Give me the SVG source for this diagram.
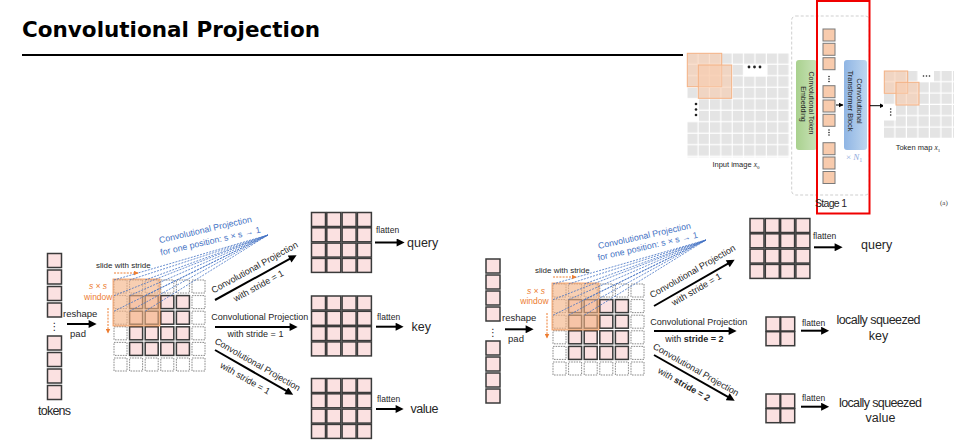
<svg xmlns="http://www.w3.org/2000/svg" width="961" height="448" viewBox="0 0 961 448">
<defs>
<style>
.t{font-family:"Liberation Sans",Arial,sans-serif;fill:#262626}
.pk{fill:#fbe1e1;stroke:#3a3a3a;stroke-width:1.5}
.pd{fill:#fff;stroke:#8a8a8a;stroke-width:1;stroke-dasharray:1.6 1}
.win{fill:#f4b183;fill-opacity:.62;stroke:#ed7d31;stroke-width:.8;stroke-opacity:.8}
.blue{fill:#4472c4}
.or{fill:#ed7d31}
.bd{stroke:#4472c4;stroke-width:.8;stroke-dasharray:2 1.2;fill:none}
.ar{stroke:#000;stroke-width:2;fill:none;marker-end:url(#ah)}
.ard{stroke:#ed7d31;stroke-width:1;stroke-dasharray:2 1.2;fill:none;marker-end:url(#oh)}
.sa{stroke:#000;stroke-width:1;fill:none;marker-end:url(#sh)}
.tk{fill:#f8cbad;stroke:#7a7a7a;stroke-width:1}
.ov{fill:#f8cbad;fill-opacity:.6;stroke:#f4b183;stroke-width:1}
.dot{fill:#222}
</style>
<marker id="ah" viewBox="0 0 10 10" refX="6" refY="5" markerWidth="9" markerHeight="8" markerUnits="userSpaceOnUse" orient="auto"><path d="M0,0 L10,5 L0,10 z" fill="#000"/></marker>
<marker id="oh" viewBox="0 0 10 10" refX="9" refY="5" markerWidth="5" markerHeight="5" markerUnits="userSpaceOnUse" orient="auto"><path d="M0,0 L10,5 L0,10 z" fill="#ed7d31"/></marker>
<marker id="sh" viewBox="0 0 10 10" refX="9" refY="5" markerWidth="5" markerHeight="5" markerUnits="userSpaceOnUse" orient="auto"><path d="M0,0 L10,5 L0,10 z" fill="#000"/></marker>
<rect id="c13" width="13" height="13" class="pk"/>
<rect id="d13" width="13" height="13" class="pd"/>
<rect id="c14" width="14" height="14" class="pk"/>
<rect id="t12" width="12" height="12" class="tk"/>
<pattern id="gimg" patternUnits="userSpaceOnUse" x="687.3" y="53.3" width="11.37" height="11.5"><rect width="10.2" height="10.3" fill="#e4e4e4"/></pattern>
<pattern id="gmap" patternUnits="userSpaceOnUse" x="884" y="71" width="11.5" height="11.33"><rect width="10.3" height="10.1" fill="#e4e4e4"/></pattern>
<linearGradient id="gg" x1="0" x2="1"><stop offset="0" stop-color="#a9d18e"/><stop offset="1" stop-color="#c9e2b8"/></linearGradient>
<linearGradient id="bg" x1="0" x2="1"><stop offset="0" stop-color="#8fb5e4"/><stop offset="1" stop-color="#bed6ef"/></linearGradient>
</defs>
<rect width="961" height="448" fill="#fff"/>

<g id="title">
<text x="22" y="37" font-family="'DejaVu Sans',sans-serif" font-weight="bold" font-size="21.5" textLength="298" fill="#000">Convolutional Projection</text>
<line x1="22" y1="55" x2="683" y2="55" stroke="#000" stroke-width="2"/>
</g>

<g id="stage-figure">
<rect x="687.3" y="53.3" width="102" height="104" fill="url(#gimg)"/>
<rect x="743.5" y="64" width="24" height="12.5" fill="#fff"/>
<rect x="686" y="98.5" width="13" height="23" fill="#fff"/>
<rect x="687.3" y="53.3" width="34.4" height="33.4" class="ov"/>
<rect x="698.3" y="65" width="33.4" height="33.3" class="ov"/>
<circle cx="749" cy="67" r="1.4" class="dot"/><circle cx="754.5" cy="67" r="1.4" class="dot"/><circle cx="760" cy="67" r="1.4" class="dot"/>
<circle cx="696" cy="104" r="1.3" class="dot"/><circle cx="696" cy="109.5" r="1.3" class="dot"/><circle cx="696" cy="115" r="1.3" class="dot"/>
<text x="736" y="167" class="t" font-size="7.5" text-anchor="middle" fill="#404040">Input image <tspan font-family="'Liberation Serif',serif" font-style="italic">x</tspan><tspan font-family="'Liberation Serif',serif" font-size="5" dy="1.5">0</tspan></text>
<rect x="791.7" y="16" width="77.6" height="179" rx="4" fill="none" stroke="#cfcfcf" stroke-dasharray="3 2"/>
<rect x="796" y="60" width="21" height="90" rx="3" fill="url(#gg)"/>
<text transform="translate(808.5,103) rotate(90)" class="t" font-size="7" text-anchor="middle" fill="#333">Convolutional Token</text>
<text transform="translate(800.5,104) rotate(90)" class="t" font-size="7" text-anchor="middle" fill="#333">Embedding</text>
<use href="#t12" x="823" y="29"/><use href="#t12" x="823" y="43.3"/><use href="#t12" x="823" y="57.7"/>
<circle cx="829" cy="76.5" r="0.8" class="dot"/><circle cx="829" cy="79" r="0.8" class="dot"/><circle cx="829" cy="81.5" r="0.8" class="dot"/>
<use href="#t12" x="823" y="85.7"/><use href="#t12" x="823" y="100"/><use href="#t12" x="823" y="114.3"/>
<circle cx="829" cy="130" r="0.8" class="dot"/><circle cx="829" cy="132.5" r="0.8" class="dot"/><circle cx="829" cy="135" r="0.8" class="dot"/>
<use href="#t12" x="823" y="142.7"/><use href="#t12" x="823" y="157"/><use href="#t12" x="823" y="171.5"/>
<line x1="836" y1="105" x2="843" y2="105" class="sa"/>
<rect x="844" y="60" width="23" height="90" rx="3" fill="url(#bg)"/>
<text transform="translate(857,101) rotate(90)" class="t" font-size="7.5" text-anchor="middle" fill="#333">Convolutional</text>
<text transform="translate(848,101) rotate(90)" class="t" font-size="7.5" text-anchor="middle" fill="#333">Transformer Block</text>
<text x="846" y="159.5" font-family="'Liberation Serif',serif" font-size="9" fill="#8faadc">× <tspan font-style="italic">N</tspan><tspan font-size="6" dy="2">1</tspan></text>
<rect x="817" y="1" width="52.5" height="212.5" fill="none" stroke="#f00000" stroke-width="2"/>
<line x1="870" y1="105.7" x2="884" y2="105.7" class="sa"/>
<rect x="884" y="71" width="70" height="68" fill="url(#gmap)"/>
<rect x="918" y="70" width="16" height="12" fill="#fff"/>
<rect x="883" y="104.5" width="13" height="16" fill="#fff"/>
<rect x="884.3" y="71" width="23.4" height="22.3" class="ov"/>
<rect x="896" y="82.3" width="23" height="22.7" class="ov"/>
<circle cx="923.5" cy="76" r="0.8" class="dot"/><circle cx="926.5" cy="76" r="0.8" class="dot"/><circle cx="929.5" cy="76" r="0.8" class="dot"/>
<circle cx="890.7" cy="109" r="0.8" class="dot"/><circle cx="890.7" cy="112" r="0.8" class="dot"/><circle cx="890.7" cy="115" r="0.8" class="dot"/>
<text x="918" y="150" class="t" font-size="7.5" text-anchor="middle" fill="#404040">Token map <tspan font-family="'Liberation Serif',serif" font-style="italic">x</tspan><tspan font-family="'Liberation Serif',serif" font-size="5" dy="1.5">1</tspan></text>
<text x="831" y="207" class="t" font-size="10.5" text-anchor="middle" textLength="32" fill="#404040">Stage 1</text>
<text x="940" y="205" font-family="'Liberation Serif',serif" font-size="7" fill="#404040">(a)</text>
</g>

<g id="left-tokens">
<use href="#c14" x="47.5" y="253.5"/><use href="#c14" x="47.5" y="270"/><use href="#c14" x="47.5" y="286.5"/><use href="#c14" x="47.5" y="303"/>
<text x="54.5" y="330" font-family="'DejaVu Sans',sans-serif" font-size="10" text-anchor="middle" fill="#262626">⋮</text>
<use href="#c14" x="47.5" y="336"/><use href="#c14" x="47.5" y="352.5"/><use href="#c14" x="47.5" y="369"/><use href="#c14" x="47.5" y="385.5"/>
<text x="54.5" y="415" class="t" font-size="12.5" text-anchor="middle" textLength="33">tokens</text>
</g>

<g id="left-grid">
<use href="#d13" x="114" y="280"/><use href="#d13" x="129.6" y="280"/><use href="#d13" x="145.2" y="280"/><use href="#d13" x="160.8" y="280"/><use href="#d13" x="176.4" y="280"/><use href="#d13" x="192" y="280"/>
<use href="#d13" x="114" y="295.6"/><use href="#c13" x="129.6" y="295.6"/><use href="#c13" x="145.2" y="295.6"/><use href="#c13" x="160.8" y="295.6"/><use href="#c13" x="176.4" y="295.6"/><use href="#d13" x="192" y="295.6"/>
<use href="#d13" x="114" y="311.2"/><use href="#c13" x="129.6" y="311.2"/><use href="#c13" x="145.2" y="311.2"/><use href="#c13" x="160.8" y="311.2"/><use href="#c13" x="176.4" y="311.2"/><use href="#d13" x="192" y="311.2"/>
<use href="#d13" x="114" y="326.8"/><use href="#c13" x="129.6" y="326.8"/><use href="#c13" x="145.2" y="326.8"/><use href="#c13" x="160.8" y="326.8"/><use href="#c13" x="176.4" y="326.8"/><use href="#d13" x="192" y="326.8"/>
<use href="#d13" x="114" y="342.4"/><use href="#c13" x="129.6" y="342.4"/><use href="#c13" x="145.2" y="342.4"/><use href="#c13" x="160.8" y="342.4"/><use href="#c13" x="176.4" y="342.4"/><use href="#d13" x="192" y="342.4"/>
<use href="#d13" x="114" y="358"/><use href="#d13" x="129.6" y="358"/><use href="#d13" x="145.2" y="358"/><use href="#d13" x="160.8" y="358"/><use href="#d13" x="176.4" y="358"/><use href="#d13" x="192" y="358"/>
<rect x="113" y="279" width="47" height="47" class="win"/>
<path class="bd" d="M114,280L268,235M129.6,280L268,235M145.2,280L268,235M114,295.6L268,235M129.6,295.6L268,235M145.2,295.6L268,235M114,311.2L268,235M129.6,311.2L268,235M145.2,311.2L268,235"/>
<text transform="translate(206,232.5) rotate(-13)" class="t blue" font-size="8.8" text-anchor="middle">Convolutional Projection</text>
<text transform="translate(211,244) rotate(-13)" class="t blue" font-size="8.8" text-anchor="middle">for one position: s × s → 1</text>
<text x="96" y="268" class="t" font-size="8">slide with stride</text>
<line x1="114" y1="273" x2="138" y2="273" class="ard"/>
<text x="98" y="289" class="t or" font-size="8.5" font-style="italic" text-anchor="middle">s × s</text>
<text x="98.3" y="300" class="t or" font-size="8.5" text-anchor="middle">window</text>
<line x1="108" y1="308" x2="108" y2="333" class="ard"/>
</g>

<g id="left-query">
<use href="#c14" x="311.5" y="212.5"/><use href="#c14" x="326.8" y="212.5"/><use href="#c14" x="342.1" y="212.5"/><use href="#c14" x="357.4" y="212.5"/>
<use href="#c14" x="311.5" y="227.8"/><use href="#c14" x="326.8" y="227.8"/><use href="#c14" x="342.1" y="227.8"/><use href="#c14" x="357.4" y="227.8"/>
<use href="#c14" x="311.5" y="243.1"/><use href="#c14" x="326.8" y="243.1"/><use href="#c14" x="342.1" y="243.1"/><use href="#c14" x="357.4" y="243.1"/>
<use href="#c14" x="311.5" y="258.4"/><use href="#c14" x="326.8" y="258.4"/><use href="#c14" x="342.1" y="258.4"/><use href="#c14" x="357.4" y="258.4"/>
<text x="407" y="247" class="t" font-size="12.5">query</text>
</g>
<g id="left-key">
<use href="#c14" x="311.5" y="296"/><use href="#c14" x="326.8" y="296"/><use href="#c14" x="342.1" y="296"/><use href="#c14" x="357.4" y="296"/>
<use href="#c14" x="311.5" y="311.3"/><use href="#c14" x="326.8" y="311.3"/><use href="#c14" x="342.1" y="311.3"/><use href="#c14" x="357.4" y="311.3"/>
<use href="#c14" x="311.5" y="326.6"/><use href="#c14" x="326.8" y="326.6"/><use href="#c14" x="342.1" y="326.6"/><use href="#c14" x="357.4" y="326.6"/>
<use href="#c14" x="311.5" y="341.9"/><use href="#c14" x="326.8" y="341.9"/><use href="#c14" x="342.1" y="341.9"/><use href="#c14" x="357.4" y="341.9"/>
<text x="411.5" y="330.5" class="t" font-size="12.5">key</text>
</g>
<g id="left-value">
<use href="#c14" x="311.5" y="378.5"/><use href="#c14" x="326.8" y="378.5"/><use href="#c14" x="342.1" y="378.5"/><use href="#c14" x="357.4" y="378.5"/>
<use href="#c14" x="311.5" y="393.8"/><use href="#c14" x="326.8" y="393.8"/><use href="#c14" x="342.1" y="393.8"/><use href="#c14" x="357.4" y="393.8"/>
<use href="#c14" x="311.5" y="409.1"/><use href="#c14" x="326.8" y="409.1"/><use href="#c14" x="342.1" y="409.1"/><use href="#c14" x="357.4" y="409.1"/>
<use href="#c14" x="311.5" y="424.4"/><use href="#c14" x="326.8" y="424.4"/><use href="#c14" x="342.1" y="424.4"/><use href="#c14" x="357.4" y="424.4"/>
<text x="410.5" y="412.5" class="t" font-size="12.5" textLength="28">value</text>
</g>

<g id="right-tokens">
<use href="#c14" x="486" y="259"/><use href="#c14" x="486" y="275"/><use href="#c14" x="486" y="291"/><use href="#c14" x="486" y="307"/>
<text x="493" y="335.5" font-family="'DejaVu Sans',sans-serif" font-size="10" text-anchor="middle" fill="#262626">⋮</text>
<use href="#c14" x="486" y="341"/><use href="#c14" x="486" y="357"/><use href="#c14" x="486" y="373"/><use href="#c14" x="486" y="389"/>
</g>

<g id="right-grid">
<use href="#d13" x="553" y="284"/><use href="#d13" x="568.6" y="284"/><use href="#d13" x="584.2" y="284"/><use href="#d13" x="599.8" y="284"/><use href="#d13" x="615.4" y="284"/><use href="#d13" x="631" y="284"/>
<use href="#d13" x="553" y="299.6"/><use href="#c13" x="568.6" y="299.6"/><use href="#c13" x="584.2" y="299.6"/><use href="#c13" x="599.8" y="299.6"/><use href="#c13" x="615.4" y="299.6"/><use href="#d13" x="631" y="299.6"/>
<use href="#d13" x="553" y="315.2"/><use href="#c13" x="568.6" y="315.2"/><use href="#c13" x="584.2" y="315.2"/><use href="#c13" x="599.8" y="315.2"/><use href="#c13" x="615.4" y="315.2"/><use href="#d13" x="631" y="315.2"/>
<use href="#d13" x="553" y="330.8"/><use href="#c13" x="568.6" y="330.8"/><use href="#c13" x="584.2" y="330.8"/><use href="#c13" x="599.8" y="330.8"/><use href="#c13" x="615.4" y="330.8"/><use href="#d13" x="631" y="330.8"/>
<use href="#d13" x="553" y="346.4"/><use href="#c13" x="568.6" y="346.4"/><use href="#c13" x="584.2" y="346.4"/><use href="#c13" x="599.8" y="346.4"/><use href="#c13" x="615.4" y="346.4"/><use href="#d13" x="631" y="346.4"/>
<use href="#d13" x="553" y="362"/><use href="#d13" x="568.6" y="362"/><use href="#d13" x="584.2" y="362"/><use href="#d13" x="599.8" y="362"/><use href="#d13" x="615.4" y="362"/><use href="#d13" x="631" y="362"/>
<rect x="552" y="283" width="47" height="47" class="win"/>
<path class="bd" d="M553,284L706,240M568.6,284L706,240M584.2,284L706,240M553,299.6L706,240M568.6,299.6L706,240M584.2,299.6L706,240M553,315.2L706,240M568.6,315.2L706,240M584.2,315.2L706,240"/>
<text transform="translate(645,238.7) rotate(-12.5)" class="t blue" font-size="8.8" text-anchor="middle">Convolutional Projection</text>
<text transform="translate(648.3,249.2) rotate(-13)" class="t blue" font-size="8.8" text-anchor="middle">for one position: s × s → 1</text>
<text x="535" y="272.5" class="t" font-size="8">slide with stride</text>
<line x1="553" y1="277" x2="576" y2="277" class="ard"/>
<text x="536" y="294" class="t or" font-size="8.5" font-style="italic" text-anchor="middle">s × s</text>
<text x="534.5" y="304" class="t or" font-size="8.5" text-anchor="middle">window</text>
<line x1="547" y1="313" x2="547" y2="338" class="ard"/>
</g>

<g id="right-query">
<use href="#c14" x="750" y="218.5"/><use href="#c14" x="765.3" y="218.5"/><use href="#c14" x="780.6" y="218.5"/><use href="#c14" x="795.9" y="218.5"/>
<use href="#c14" x="750" y="233.8"/><use href="#c14" x="765.3" y="233.8"/><use href="#c14" x="780.6" y="233.8"/><use href="#c14" x="795.9" y="233.8"/>
<use href="#c14" x="750" y="249.1"/><use href="#c14" x="765.3" y="249.1"/><use href="#c14" x="780.6" y="249.1"/><use href="#c14" x="795.9" y="249.1"/>
<use href="#c14" x="750" y="264.4"/><use href="#c14" x="765.3" y="264.4"/><use href="#c14" x="780.6" y="264.4"/><use href="#c14" x="795.9" y="264.4"/>
<text x="861" y="249" class="t" font-size="12.5">query</text>
</g>
<g id="right-key">
<use href="#c14" x="766" y="317"/><use href="#c14" x="780.7" y="317"/>
<use href="#c14" x="766" y="331.7"/><use href="#c14" x="780.7" y="331.7"/>
<text x="878.5" y="324" class="t" font-size="12.5" text-anchor="middle" textLength="84">locally squeezed</text>
<text x="878.5" y="340" class="t" font-size="12.5" text-anchor="middle">key</text>
</g>
<g id="right-value">
<use href="#c14" x="766" y="394"/><use href="#c14" x="780.7" y="394"/>
<use href="#c14" x="766" y="408.7"/><use href="#c14" x="780.7" y="408.7"/>
<text x="880.5" y="406.5" class="t" font-size="12.5" text-anchor="middle" textLength="83">locally squeezed</text>
<text x="880.5" y="421.5" class="t" font-size="12.5" text-anchor="middle">value</text>
</g>

<g id="connectors">
<line x1="67" y1="324" x2="93.4" y2="324" class="ar" stroke-width="2.5"/>
<text x="63" y="317" class="t" font-size="9.5">reshape</text>
<text x="78" y="337" class="t" font-size="9.5" text-anchor="middle">pad</text>
<line x1="505" y1="329.3" x2="530.4" y2="329.3" class="ar" stroke-width="2.5"/>
<text x="502" y="321" class="t" font-size="9.5">reshape</text>
<text x="516" y="341.5" class="t" font-size="9.5" text-anchor="middle">pad</text>

<line x1="215" y1="300" x2="293.8" y2="256.7" class="ar"/>
<text transform="translate(256,270) rotate(-28.8)" class="t" font-size="9" text-anchor="middle">Convolutional Projection</text>
<text transform="translate(260,288.5) rotate(-28.8)" class="t" font-size="9" text-anchor="middle">with stride = 1</text>
<line x1="215" y1="327" x2="294.4" y2="327" class="ar"/>
<text x="259.8" y="320" class="t" font-size="9" text-anchor="middle">Convolutional Projection</text>
<text x="255.5" y="336.5" class="t" font-size="9" text-anchor="middle">with stride = 1</text>
<line x1="215" y1="350" x2="290.4" y2="393.2" class="ar"/>
<text transform="translate(256,367) rotate(29.8)" class="t" font-size="9" text-anchor="middle">Convolutional Projection</text>
<text transform="translate(243.6,381) rotate(29.8)" class="t" font-size="9" text-anchor="middle">with stride = 1</text>

<line x1="375" y1="242.5" x2="401.4" y2="242.5" class="ar"/>
<text x="376" y="233" class="t" font-size="8.5">flatten</text>
<line x1="376" y1="326.7" x2="400.4" y2="326.7" class="ar"/>
<text x="377" y="320" class="t" font-size="8.5">flatten</text>
<line x1="376" y1="409" x2="400.4" y2="409" class="ar"/>
<text x="377" y="402" class="t" font-size="8.5">flatten</text>

<line x1="654" y1="306" x2="731.9" y2="261.3" class="ar"/>
<text transform="translate(694,274) rotate(-29.9)" class="t" font-size="9" text-anchor="middle">Convolutional Projection</text>
<text transform="translate(698,292) rotate(-29.9)" class="t" font-size="9" text-anchor="middle">with stride = 1</text>
<line x1="654" y1="331" x2="733.4" y2="331" class="ar"/>
<text x="698.7" y="324.5" class="t" font-size="9" text-anchor="middle">Convolutional Projection</text>
<text x="694.3" y="341.5" class="t" font-size="9" text-anchor="middle">with <tspan font-weight="bold">stride = 2</tspan></text>
<line x1="654" y1="355" x2="731.9" y2="399.2" class="ar"/>
<text transform="translate(694.5,372.3) rotate(29.6)" class="t" font-size="9" text-anchor="middle">Convolutional Projection</text>
<text transform="translate(682.5,387) rotate(29.6)" class="t" font-size="9" text-anchor="middle">with <tspan font-weight="bold">stride = 2</tspan></text>

<line x1="814" y1="247.3" x2="839.4" y2="247.3" class="ar"/>
<text x="813" y="239" class="t" font-size="8.5">flatten</text>
<line x1="801" y1="330.7" x2="825.9" y2="330.7" class="ar"/>
<text x="802" y="325.5" class="t" font-size="8.5">flatten</text>
<line x1="801" y1="406.7" x2="825.9" y2="406.7" class="ar"/>
<text x="802" y="401" class="t" font-size="8.5">flatten</text>
</g>
</svg>
